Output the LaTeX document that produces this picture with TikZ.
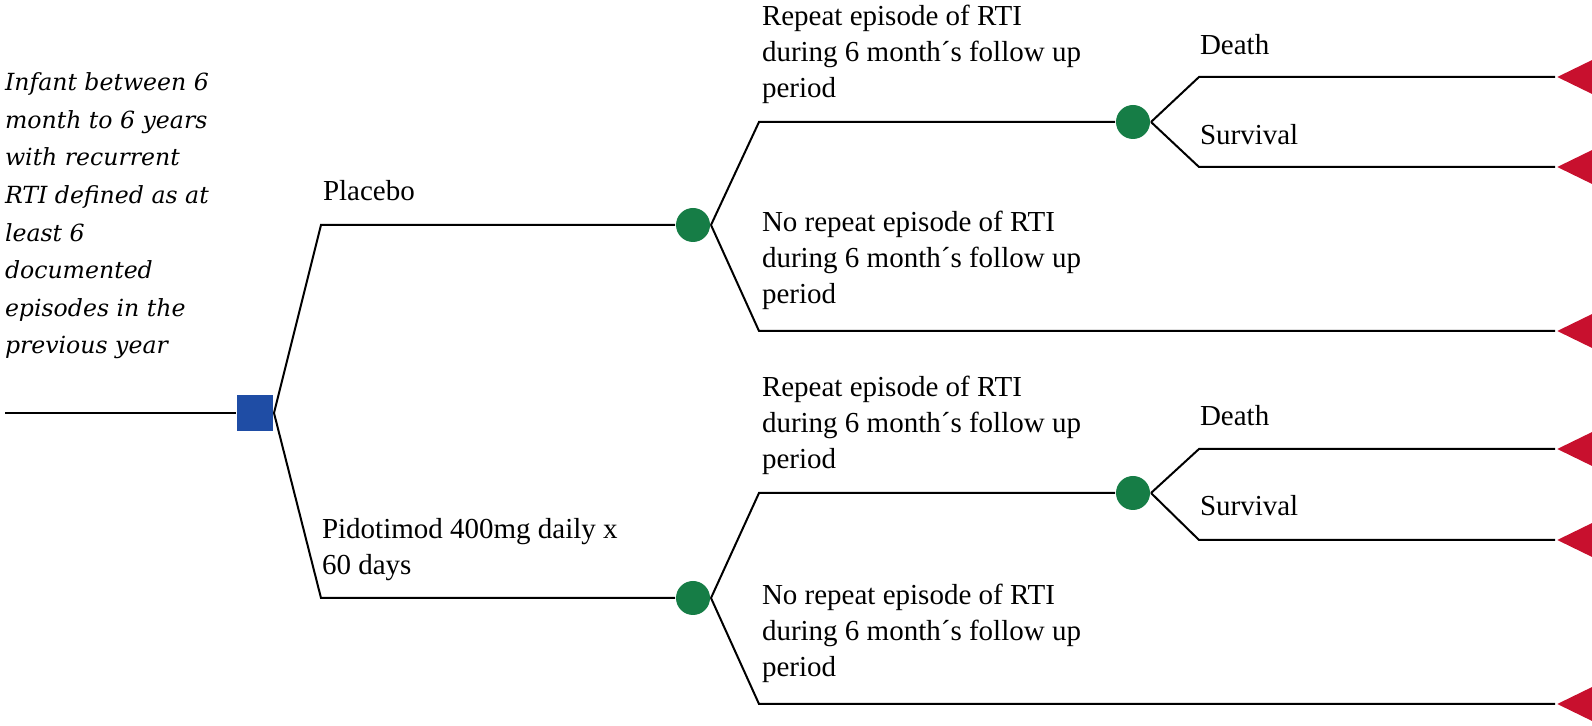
\documentclass[tikz,border=0pt]{standalone}
\usepackage{fontspec}
\setmainfont{Liberation Serif}
\newfontfamily\casefont{DejaVu Serif}
\usetikzlibrary{shapes.geometric}
\definecolor{decblue}{RGB}{31,77,165}
\definecolor{chgreen}{RGB}{22,125,70}
\definecolor{endred}{RGB}{200,16,46}

\begin{document}
\begin{tikzpicture}[x=0.5pt, y=-0.5pt, line width=1pt,
    decision/.style={rectangle, fill=decblue, minimum size=18pt, inner sep=0pt},
    chance/.style={circle, fill=chgreen, minimum size=17pt, inner sep=0pt},
    terminal/.style={isosceles triangle, shape border rotate=180,
        isosceles triangle apex angle=52, fill=endred, inner sep=0pt,
        minimum size=18pt, anchor=apex},
    lbl/.style={anchor=base west, inner sep=0pt, align=left,
        font=\fontsize{14.5}{18}\selectfont},
    casetext/.style={anchor=base west, inner sep=0pt, align=left,
        font=\casefont\itshape\fontsize{11.8}{18.8}\selectfont}]
    \useasboundingbox (0,0) rectangle (1592,726);

    % decision and chance nodes
    \coordinate (in) at (5,413);
    \node[decision] (dec) at (255,413) {};
    \node[chance] (pla) at (693,225) {};
    \node[chance] (pid) at (693,598) {};
    \node[chance] (plarep) at (1133,122) {};
    \node[chance] (pidrep) at (1133,493) {};

    % terminal nodes
    \node[terminal] (pladeath) at (1555,77) {};
    \node[terminal] (plasurv) at (1555,167) {};
    \node[terminal] (planorep) at (1555,331) {};
    \node[terminal] (piddeath) at (1555,449) {};
    \node[terminal] (pidsurv) at (1555,540) {};
    \node[terminal] (pidnorep) at (1555,704) {};

    % corners of the branches
    \coordinate (k1) at (321,225);
    \coordinate (k2) at (321,598);
    \coordinate (k3) at (759,122);
    \coordinate (k4) at (759,331);
    \coordinate (k5) at (759,493);
    \coordinate (k6) at (759,704);
    \coordinate (k7) at (1199,77);
    \coordinate (k8) at (1199,167);
    \coordinate (k9) at (1199,449);
    \coordinate (k10) at (1199,540);

    % branches
    \draw (in) -- (dec);
    \draw (dec.east) -- (k1) -- (pla);
    \draw (dec.east) -- (k2) -- (pid);
    \draw (pla.east) -- (k3) -- (plarep);
    \draw (pla.east) -- (k4) -- (planorep);
    \draw (pid.east) -- (k5) -- (pidrep);
    \draw (pid.east) -- (k6) -- (pidnorep);
    \draw (plarep.east) -- (k7) -- (pladeath);
    \draw (plarep.east) -- (k8) -- (plasurv);
    \draw (pidrep.east) -- (k9) -- (piddeath);
    \draw (pidrep.east) -- (k10) -- (pidsurv);

    % labels (placed at the baseline of their last line)
    \node[casetext] (case) at (4,354) {Infant between 6\\month to 6 years\\with recurrent\\RTI defined as at\\least 6\\documented\\episodes in the\\previous year};
    \node[lbl] (plalbl) at (322,201) {Placebo};
    \node[lbl] (pidlbl) at (321,575) {Pidotimod 400mg daily x\\60 days};
    \node[lbl] (plareplbl) at (761,98) {Repeat episode of RTI\\during 6 month´s follow up\\period};
    \node[lbl] (planoreplbl) at (761,304) {No repeat episode of RTI\\during 6 month´s follow up\\period};
    \node[lbl] (pidreplbl) at (761,469) {Repeat episode of RTI\\during 6 month´s follow up\\period};
    \node[lbl] (pidnoreplbl) at (761,677) {No repeat episode of RTI\\during 6 month´s follow up\\period};
    \node[lbl] (pladeathlbl) at (1199,55) {Death};
    \node[lbl] (plasurvlbl) at (1199,145) {Survival};
    \node[lbl] (piddeathlbl) at (1199,426) {Death};
    \node[lbl] (pidsurvlbl) at (1199,516) {Survival};
\end{tikzpicture}
\end{document}
